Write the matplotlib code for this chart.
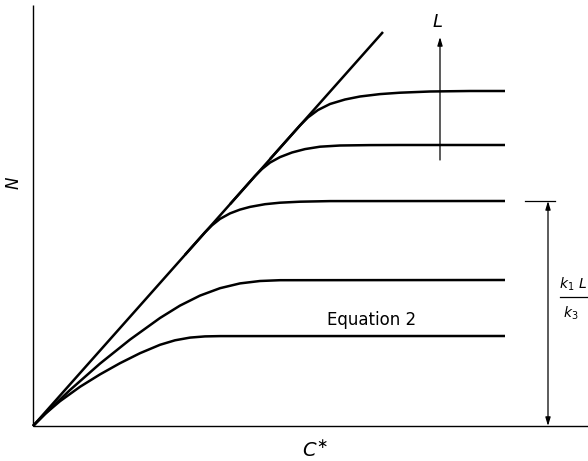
import matplotlib
matplotlib.use("Agg")
import matplotlib.pyplot as plt

# ---- data (units: arbitrary C* and N) ----
line_x = [0.0, 3.50]
line_y = [0.0, 3.94]

c1_x = [2.37, 2.67, 2.75, 2.85, 2.97, 3.12, 3.27, 3.47, 3.67, 3.97, 4.37, 4.72]
c1_y = [2.669, 3.006, 3.086, 3.16, 3.22, 3.265, 3.295, 3.319, 3.333, 3.345, 3.35, 3.35]

c2_x = [1.97, 2.22, 2.29, 2.37, 2.47, 2.59, 2.72, 2.87, 3.07, 3.37, 3.67, 4.72]
c2_y = [2.218, 2.50, 2.57, 2.634, 2.689, 2.735, 2.769, 2.793, 2.805, 2.809, 2.81, 2.81]

c3_x = [1.52, 1.72, 1.79, 1.87, 1.97, 2.07, 2.17, 2.32, 2.47, 2.67, 2.97, 4.72]
c3_y = [1.712, 1.937, 2.007, 2.071, 2.126, 2.164, 2.191, 2.218, 2.233, 2.243, 2.249, 2.25]

c4_x = [0.0, 0.17, 0.37, 0.67, 0.97, 1.27, 1.47, 1.67, 1.87, 2.07, 2.27, 2.47, 4.72]
c4_y = [0.0, 0.17, 0.36, 0.624, 0.864, 1.08, 1.204, 1.304, 1.378, 1.426, 1.45, 1.458, 1.46]

c5_x = [0.0, 0.12, 0.27, 0.47, 0.67, 0.87, 1.07, 1.27, 1.42, 1.57, 1.72, 1.87, 4.72]
c5_y = [0.0, 0.12, 0.248, 0.392, 0.516, 0.628, 0.728, 0.812, 0.857, 0.884, 0.896, 0.899, 0.90]

curves = [(c1_x, c1_y), (c2_x, c2_y), (c3_x, c3_y), (c4_x, c4_y), (c5_x, c5_y)]

fig = plt.figure(figsize=(5.88, 4.61), dpi=100)
ax = fig.add_axes([0, 0, 1, 1])
ax.set_xlim(-0.33, 5.55)
ax.set_ylim(-0.35, 4.26)
ax.axis("off")

k = "black"
# axes
ax.plot([0, 0], [0, 4.21], color=k, lw=1.0, solid_capstyle="butt")
ax.plot([0, 5.55], [0, 0], color=k, lw=1.0, solid_capstyle="butt")

# straight line
ax.plot(line_x, line_y, color=k, lw=1.8, solid_capstyle="butt")
for cx, cy in curves:
    ax.plot(cx, cy, color=k, lw=1.8, solid_joinstyle="round", solid_capstyle="butt")

# L arrow
ax.annotate("", xy=(4.07, 3.89), xytext=(4.07, 2.66),
            arrowprops=dict(arrowstyle="-|>,head_length=0.5,head_width=0.15",
                            color=k, lw=0.9, shrinkA=0, shrinkB=0))
ax.text(4.04, 4.04, "$L$", fontsize=13, ha="center", va="center", color=k)

# k1 L / k3 double arrow
ax.plot([4.92, 5.22], [2.25, 2.25], color=k, lw=0.9)
ax.annotate("", xy=(5.15, 2.25), xytext=(5.15, 0.0),
            arrowprops=dict(arrowstyle="<|-|>,head_length=0.5,head_width=0.15",
                            color=k, lw=0.9, shrinkA=0, shrinkB=0))
ax.text(5.40, 1.42, "$k_1\\ L$", fontsize=10, ha="center", va="center", color=k)
ax.plot([5.27, 5.55], [1.29, 1.29], color=k, lw=0.9)
ax.text(5.38, 1.13, "$k_3$", fontsize=10, ha="center", va="center", color=k)

# labels
ax.text(3.39, 1.06, "Equation 2", fontsize=12, ha="center", va="center", color=k)
ax.text(2.82, -0.24, "$C^{\\ast}$", fontsize=14, ha="center", va="center", color=k)
ax.text(-0.19, 2.43, "$N$", fontsize=12, ha="center", va="center", rotation=90, color=k)

fig.savefig("out.png", dpi=100)
